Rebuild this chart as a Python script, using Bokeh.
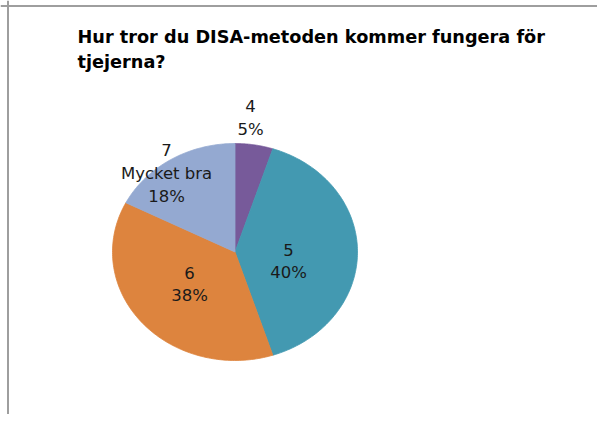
import numpy as np
from bokeh.plotting import figure
from bokeh.models import Range1d, Label, Span, ColumnDataSource
from bokeh.core.properties import value
from bokeh.embed import file_html
from bokeh.resources import INLINE

# ---- data ----
categories = ["4", "5", "6", "7\nMycket bra"]
counts = [2, 16, 15, 7]
colors = ["#775A9A", "#4399B1", "#DD843E", "#94A9D1"]
title_lines = ["Hur tror du DISA-metoden kommer fungera för", "tjejerna?"]

# ---- layout (canvas pixel coordinates, y downward) ----
W, H = 597, 414
cx, cy = 234.5, 251.5
rx, ry = 122.5, 108.5
label_rfac = [1.241, 0.446, 0.477, 0.914]
label_tweak = [3.15, -11.3, -1.6, 6.2]

total = float(sum(counts))
fracs = [c / total for c in counts]
pcts = [int(f * 100 + 0.5) for f in fracs]

xs, ys, lx, ly, ltxt = [], [], [], [], []
cum = 0.0
for i, f in enumerate(fracs):
    a0 = 90.0 - 360.0 * cum
    a1 = 90.0 - 360.0 * (cum + f)
    cum += f
    t = np.radians(np.linspace(a0, a1, 120))
    xs.append([cx] + list(cx + rx * np.cos(t)))
    ys.append([cy] + list(cy - ry * np.sin(t)))
    mid = np.radians((a0 + a1) / 2.0 + label_tweak[i])
    lx.append(cx + label_rfac[i] * rx * np.cos(mid))
    ly.append(cy - label_rfac[i] * ry * np.sin(mid))
    ltxt.append(f"{categories[i]}\n{pcts[i]}%")

p = figure(width=W, height=H, output_backend="svg", toolbar_location=None,
           x_range=Range1d(0, W), y_range=Range1d(H, 0),
           x_axis_type=None, y_axis_type=None, min_border=0)
p.outline_line_color = None
p.grid.visible = False
p.background_fill_color = "white"
p.border_fill_color = "white"

src = ColumnDataSource(dict(xs=xs, ys=ys, color=colors))
p.patches("xs", "ys", source=src, fill_color="color", line_color="color", line_width=0.8)

lsrc = ColumnDataSource(dict(x=lx, y=ly, t=ltxt))
p.text("x", "y", text="t", source=lsrc, text_align="center", text_baseline="middle",
       text_font=value("DejaVu Sans"), text_font_size="16.5px", text_color="#1a1a1a",
       text_line_height=1.2)

# title
for i, line in enumerate(title_lines):
    p.add_layout(Label(x=77, y=36 + 25 * i, text=line, text_font="DejaVu Sans",
                       text_font_style="bold", text_font_size="17.7px",
                       text_color="#000000", text_baseline="alphabetic"))

# frame border (top and left)
p.add_layout(Span(location=5.5, dimension="width", line_color="#9E9E9E", line_width=2))
p.add_layout(Span(location=7.5, dimension="height", line_color="#9E9E9E", line_width=2))

open("out.html", "w").write(file_html(p, INLINE))
